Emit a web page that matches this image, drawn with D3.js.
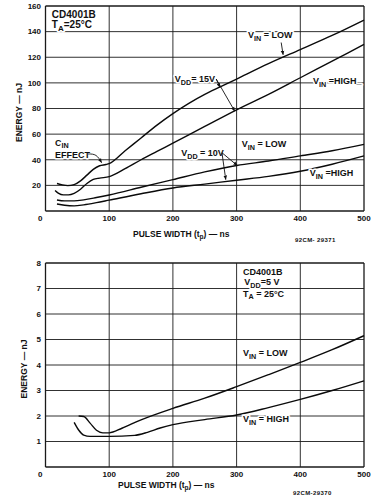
<!DOCTYPE html>
<html><head><meta charset="utf-8">
<script src="https://cdn.jsdelivr.net/npm/d3@7"></script>
<style>
body{margin:0;background:#fff;}
svg{display:block;font-family:"Liberation Sans",Arial,sans-serif;font-weight:bold;}
</style></head><body>
<svg id="c" width="384" height="500"></svg>
<script>
// ---------- data ----------
const xTicks = [0, 100, 200, 300, 400, 500];
const topYTicks = [0, 20, 40, 60, 80, 100, 120, 140, 160];
const botYTicks = [0, 1, 2, 3, 4, 5, 6, 7, 8];

// top panel (nJ vs ns)
const vdd15Low = [[18,21.5],[25,20.6],[35,19.8],[45,20.6],[55,23.5],[65,28],[75,32.5],[85,35.3],[95,36.3],[100,37],[125,47],[150,57],[175,67],[200,76],[225,84],[250,91],[275,97],[300,103],[350,115],[400,126],[450,137],[500,149]];
const vdd15High = [[15,16],[20,14],[28,12.6],[36,12.6],[45,13.8],[55,17],[65,21.5],[75,24.7],[85,25.7],[100,26.8],[125,33],[150,40],[175,46.5],[200,53],[250,66],[300,79],[350,91],[400,104],[450,117],[500,130]];
const vdd10Low = [[18,8.6],[30,7.9],[45,7.9],[60,8.7],[80,10.5],[100,12.5],[150,18.5],[200,24.5],[250,30.5],[300,35.5],[350,39],[400,43],[450,47],[500,52]];
const vdd10High = [[18,5.5],[30,4.5],[45,4],[60,4.8],[80,6.5],[100,8.5],[150,13.5],[200,18],[250,21],[300,24],[350,27],[400,31],[450,36.5],[500,43]];

// bottom panel (VDD = 5 V)
const vdd5Low = [[52,2.0],[60,1.98],[70,1.72],[80,1.44],[90,1.34],[100,1.34],[120,1.52],[150,1.85],[200,2.3],[250,2.7],[300,3.15],[350,3.62],[400,4.1],[450,4.6],[500,5.15]];
const vdd5High = [[45,1.75],[52,1.45],[60,1.25],[70,1.2],[100,1.2],[140,1.24],[160,1.36],[180,1.53],[200,1.66],[250,1.86],[300,2.04],[350,2.33],[400,2.65],[450,3.0],[500,3.38]];

// annotations (data coordinates)
const topNotes = [
  {t:"CD4001B", x:10, y:150.5, fs:10},
  {t:"T_{A}=25°C", x:10, y:143, fs:10},
  {t:"V_{IN} = LOW", x:318, y:135, fs:9},
  {t:"V_{DD}= 15V", x:203, y:100.7, fs:9},
  {t:"V_{IN} =HIGH_", x:420, y:99, fs:9},
  {t:"C_{IN}", x:15, y:51, fs:9},
  {t:"EFFECT", x:15, y:41.2, fs:9},
  {t:"V_{DD} = 10V", x:213, y:43, fs:9},
  {t:"V_{IN} = LOW", x:308, y:50, fs:9},
  {t:"V_{IN} =HIGH", x:415, y:27.3, fs:9}
];
const topArrows = [
  [[370,131.5],[373,122]],
  [[268,103],[274,96.5]],
  [[268,103],[297,78]],
  [[277,45.5],[301,35.5]],
  [[277,45.5],[283,24.5]]
];
const cinLeader = [[67,44.5],[80,44.5],[88,37.8]];
const botNotes = [
  {t:"CD4001B", x:310, y:7.53, fs:9},
  {t:"V_{DD}=5 V", x:312, y:7.12, fs:9},
  {t:"T_{A} = 25°C", x:310, y:6.68, fs:9},
  {t:"V_{IN} = LOW", x:310, y:4.35, fs:9},
  {t:"V_{IN} = HIGH", x:310, y:1.76, fs:9}
];

// ---------- drawing ----------
const svg = d3.select("#c");
const x = d3.scaleLinear().domain([0, 500]).range([45.5, 364]);
const yTop = d3.scaleLinear().domain([0, 160]).range([211, 6]);
const yBot = d3.scaleLinear().domain([0, 8]).range([467, 263]);

svg.append("defs").append("marker")
  .attr("id","ah").attr("viewBox","0 0 10 10").attr("refX",9).attr("refY",5)
  .attr("markerWidth",5).attr("markerHeight",5).attr("orient","auto")
  .append("path").attr("d","M0,1 L10,5 L0,9 Z").attr("fill","#111");

function richText(g, str, px, py, fs) {
  const t = g.append("text").attr("x", px).attr("y", py)
    .attr("font-size", fs).attr("fill", "#111")
    .style("paint-order","stroke").attr("stroke","#fff").attr("stroke-width",3).attr("stroke-linejoin","round");
  const parts = str.split(/(_\{[^}]*\})/).filter(s => s.length);
  let shifted = false;
  parts.forEach(p => {
    if (p.startsWith("_{")) {
      t.append("tspan").attr("font-size", fs*0.8).attr("dy", fs*0.3).text(p.slice(2, -1));
      shifted = true;
    } else {
      const s = t.append("tspan").text(p);
      if (shifted) { s.attr("dy", -fs*0.3); shifted = false; }
    }
  });
  return t;
}

function panel(y, yTicks, series, notes, yTitleX, title, titleY, code, codeY, codeText) {
  const g = svg.append("g");
  const [y0, y1] = y.range();
  // grid
  g.selectAll(".vg").data(xTicks).join("line")
    .attr("x1", d => x(d)).attr("x2", d => x(d)).attr("y1", y0).attr("y2", y1)
    .attr("stroke", "#1a1a1a").attr("stroke-width", d => (d===0||d===500)?1.3:0.9);
  g.selectAll(".hg").data(yTicks).join("line")
    .attr("x1", x(0)).attr("x2", x(500)).attr("y1", d => y(d)).attr("y2", d => y(d))
    .attr("stroke", "#1a1a1a").attr("stroke-width", (d,i) => (i===0||i===yTicks.length-1)?1.3:0.9);
  // y tick labels
  g.selectAll(".yl").data(yTicks.filter(d => d !== 0)).join("text")
    .attr("x", 41).attr("y", d => y(d)).attr("dy", "0.35em")
    .attr("text-anchor", "end").attr("font-size", 8).attr("fill", "#111").text(d => d);
  // x tick labels
  g.selectAll(".xl").data(xTicks).join("text")
    .attr("x", d => d === 0 ? x(0) - 3 : x(d)).attr("y", y0 + 10)
    .attr("text-anchor", d => d === 0 ? "end" : "middle")
    .attr("font-size", 8).attr("fill", "#111").text(d => d);
  // curves
  const line = d3.line().x(d => x(d[0])).y(d => y(d[1])).curve(d3.curveMonotoneX);
  g.selectAll(".cv").data(series).join("path")
    .attr("d", line).attr("fill", "none").attr("stroke", "#0a0a0a").attr("stroke-width", 1.4);
  // axis titles
  g.append("text").attr("transform", `translate(${yTitleX},${(y0 + y1) / 2 + 4}) rotate(-90)`)
    .attr("text-anchor", "middle").attr("font-size", 8.5).attr("fill", "#111").text("ENERGY \u2014 nJ");
  const tt = g.append("text").attr("x", title).attr("y", titleY).attr("font-size", 8.5).attr("fill", "#111");
  tt.append("tspan").text("PULSE WIDTH (t");
  tt.append("tspan").attr("font-size", 6.5).attr("dy", 2).text("p");
  tt.append("tspan").attr("dy", -2).text(") \u2014 ns");
  g.append("text").attr("x", code).attr("y", codeY).attr("font-size", 6).attr("letter-spacing", 0.4)
    .attr("fill", "#111").text(codeText);
  // notes
  notes.forEach(n => richText(g, n.t, x(n.x), y(n.y), n.fs));
  return g;
}

const gTop = panel(yTop, topYTicks, [vdd15Low, vdd15High, vdd10Low, vdd10High], topNotes, 22, 133, 237, 295, 242, "92CM- 29371");
gTop.selectAll(".ar").data(topArrows).join("line")
  .attr("x1", d => x(d[0][0])).attr("y1", d => yTop(d[0][1]))
  .attr("x2", d => x(d[1][0])).attr("y2", d => yTop(d[1][1]))
  .attr("stroke", "#111").attr("stroke-width", 0.9).attr("marker-end", "url(#ah)");
gTop.append("path")
  .attr("d", d3.line().x(d => x(d[0])).y(d => yTop(d[1])).curve(d3.curveBasis)(cinLeader))
  .attr("fill", "none").attr("stroke", "#111").attr("stroke-width", 0.9).attr("marker-end", "url(#ah)");

panel(yBot, botYTicks, [vdd5Low, vdd5High], botNotes, 27, 118, 488, 293, 495, "92CM-29370");
</script>
</body></html>
